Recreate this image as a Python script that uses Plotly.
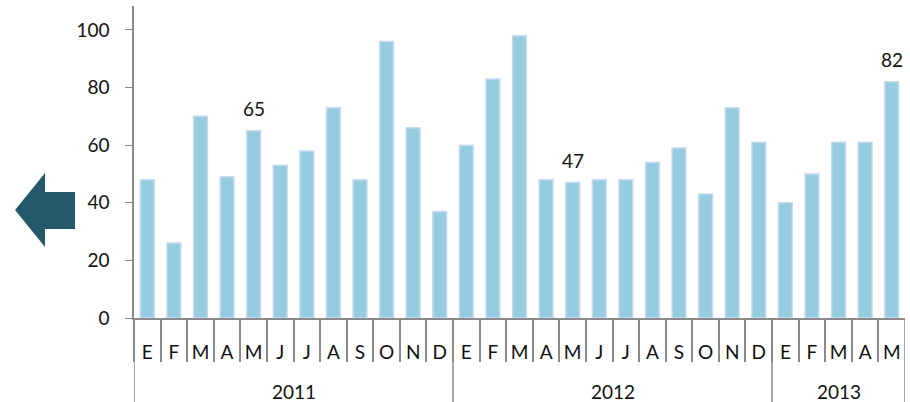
import plotly.graph_objects as go

years = ["2011"] * 12 + ["2012"] * 12 + ["2013"] * 5
months = ["E", "F", "M", "A", "M", "J", "J", "A", "S", "O", "N", "D",
          "E", "F", "M", "A", "M", "J", "J", "A", "S", "O", "N", "D",
          "E", "F", "M", "A", "M"]
values = [48, 26, 70, 49, 65, 53, 58, 73, 48, 96, 66, 37,
          60, 83, 98, 48, 47, 48, 48, 54, 59, 43, 73, 61,
          40, 50, 61, 61, 82]
labelled = [4, 16, 28]
ytick_vals = [0, 20, 40, 60, 80, 100]

W, H = 910, 402
L, R, T, B = 134, 5, 6, 84
pw, ph = W - L - R, H - T - B
GREY = "#8A8A8A"
FONT = "Lato"

idx = list(range(len(values)))

fig = go.Figure()
fig.add_trace(go.Bar(
    x=idx, y=values,
    marker=dict(color="#96CCDF", line=dict(color="#C7DAF0", width=1.5)),
    hoverinfo="skip",
))

for i in labelled:
    fig.add_annotation(x=i, y=values[i], text=str(values[i]), showarrow=False,
                       yshift=22, yanchor="middle",
                       font=dict(size=19, color="#111111", family=FONT))

# year groups
groups = []
for i, yv in enumerate(years):
    if not groups or groups[-1][0] != yv:
        groups.append([yv, i, i])
    else:
        groups[-1][2] = i

ybot = -B / ph
for g, (yv, a, b) in enumerate(groups):
    fig.add_annotation(x=(a + b) / 2, y=-(391 - (H - B)) / ph, xref="x", yref="paper",
                       text=yv, showarrow=False, yanchor="middle",
                       font=dict(size=19, color="#111111", family=FONT))
    if g > 0:
        fig.add_shape(type="line", x0=a - 0.5, x1=a - 0.5, y0=0, y1=ybot,
                      xref="x", yref="paper", line=dict(color=GREY, width=1.5))
fig.add_shape(type="line", x0=len(values) - 0.5, x1=len(values) - 0.5, y0=0, y1=ybot,
              xref="x", yref="paper", line=dict(color=GREY, width=1.5))
fig.add_shape(type="line", x0=-0.5, x1=-0.5, y0=0, y1=ybot,
              xref="x", yref="paper", line=dict(color=GREY, width=1.5))


def px(x):
    return (x - L) / pw


def py(y):
    return (H - B - y) / ph


pts = [(15, 210), (45, 173), (45, 192), (75, 192), (75, 229), (45, 229), (45, 247)]
path = "M " + " L ".join(f"{px(x):.4f},{py(y):.4f}" for x, y in pts) + " Z"
fig.add_shape(type="path", path=path, xref="paper", yref="paper",
              fillcolor="#235968", line=dict(width=0))

fig.update_layout(
    width=W, height=H,
    margin=dict(l=L, r=R, t=T, b=B, autoexpand=False),
    paper_bgcolor="white", plot_bgcolor="white",
    bargap=0.48, showlegend=False,
    font=dict(family=FONT, size=19, color="#111111"),
)
fig.update_yaxes(range=[0, 108.3], tickvals=ytick_vals, showgrid=False,
                 showline=True, linecolor=GREY, linewidth=1.5,
                 ticks="outside", ticklen=7, tickcolor=GREY,
                 ticklabelstandoff=12, zeroline=False, automargin=False,
                 tickfont=dict(size=19))
fig.update_xaxes(range=[-0.5, len(values) - 0.5], tickvals=idx, ticktext=months,
                 showline=True, linecolor=GREY, linewidth=1.5,
                 ticks="", ticklabelstandoff=16, showgrid=False, zeroline=False,
                 automargin=False, tickfont=dict(size=19),
                 minor=dict(tickmode="array", tickvals=[i - 0.5 for i in idx],
                            ticks="outside", ticklen=42, tickcolor=GREY,
                            tickwidth=1.5, showgrid=False))

fig.write_html("out.html", config={"displayModeBar": False},
               post_script="document.body.style.margin='0';document.body.style.overflow='hidden';")
